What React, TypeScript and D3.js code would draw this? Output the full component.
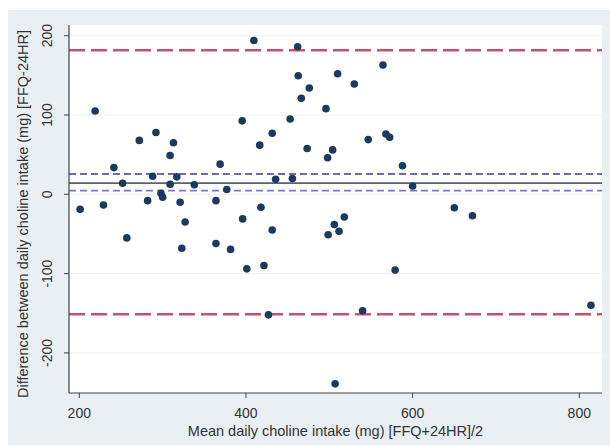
import React from "react";
import * as d3 from "d3";

const meanIntake = [201, 219, 229, 241.5, 252, 257, 272, 282, 288, 292, 298, 300, 309, 309, 313, 317, 321, 323, 327, 338, 364, 364, 369, 377, 381.5, 395.5, 396, 401, 409.5, 416.5, 418, 421.6, 427, 431.5, 431.5, 435.6, 453, 455.7, 462, 462.7, 466.4, 473.4, 476, 496, 498, 498.6, 504, 506, 507, 510, 511.7, 518, 530, 540, 546.7, 564.4, 568, 572.4, 579, 587.8, 600, 650, 671.8, 814];
const diffIntake = [-19, 105, -13.5, 33.7, 14, -55, 68, -8, 22.7, 78, 1.3, -3.8, 49, 12.6, 65, 22, -10, -68, -35, 12, -8, -62, 38, 6, -69.5, 92.6, -31, -94, 194, 62, -16.4, -89.7, -152, 77, -45, 19, 95, 20, 186, 149.5, 121, 57.7, 134, 108, 46, -51, 56, -38, -239, 152, -46.7, -28.6, 139, -147, 69, 163, 76, 72, -95.6, 36, 10.5, -17, -27, -140];

const xTicks = [200, 400, 600, 800];
const yTicks = [200, 100, 0, -100, -200];
const limitLines = [181.6, -151.3];
const ciLines = [25.6, 4.6];
const meanDiff = 14.2;

const W = 610;
const H = 447;
const left = 69;
const right = 602;
const top = 25;
const bottom = 393;

export default function App() {
  const x = d3.scaleLinear().domain([200, 800]).range([79.3, 579.3]);
  const y = d3.scaleLinear().domain([-200, 200]).range([352.9, 35.7]);
  const font = "'Liberation Sans', Arial, Helvetica, sans-serif";
  return (
    <svg width={W} height={H} style={{ position: "absolute", left: 0, top: 0, background: "#fff" }}>
      <rect x={8} y={10} width={W - 8} height={435} fill="#e9eff2" />
      <rect x={left} y={top} width={right - left} height={bottom - top} fill="#ffffff" />
      {yTicks.map((t) => (
        <line key={"g" + t} x1={left} x2={right} y1={y(t)} y2={y(t)} stroke="#eef1f3" strokeWidth={1} />
      ))}
      {limitLines.map((v, i) => (
        <line key={"l" + i} x1={left} x2={right} y1={y(v)} y2={y(v)} stroke="#c94f6b" strokeWidth={2.6} strokeDasharray="16,6" />
      ))}
      <line x1={left} x2={right} y1={y(ciLines[0])} y2={y(ciLines[0])} stroke="#3b3d96" strokeWidth={1.6} strokeDasharray="7,4" />
      <line x1={left} x2={right} y1={y(meanDiff)} y2={y(meanDiff)} stroke="#5b6170" strokeWidth={1.8} />
      <line x1={left} x2={right} y1={y(ciLines[1])} y2={y(ciLines[1])} stroke="#7778d6" strokeWidth={1.8} strokeDasharray="7,4" />
      {meanIntake.map((m, i) => (
        <circle key={i} cx={x(m)} cy={y(diffIntake[i])} r={3.8} fill="#1b3a5e" />
      ))}
      <line x1={left} x2={left} y1={top} y2={bottom} stroke="#444" strokeWidth={1.2} />
      <line x1={left} x2={right} y1={bottom} y2={bottom} stroke="#444" strokeWidth={1.2} />
      {yTicks.map((t) => (
        <g key={"yt" + t}>
          <line x1={left - 5} x2={left} y1={y(t)} y2={y(t)} stroke="#444" strokeWidth={1} />
          <text
            transform={`translate(${52},${y(t)}) rotate(-90)`}
            textAnchor="middle"
            fontFamily={font}
            fontSize={14}
            fill="#333"
          >
            {t}
          </text>
        </g>
      ))}
      {xTicks.map((t) => (
        <g key={"xt" + t}>
          <line x1={x(t)} x2={x(t)} y1={bottom} y2={bottom + 5} stroke="#444" strokeWidth={1} />
          <text x={x(t)} y={418} textAnchor="middle" fontFamily={font} fontSize={14} fill="#333">
            {t}
          </text>
        </g>
      ))}
      <text x={(left + right) / 2} y={436} textAnchor="middle" fontFamily={font} fontSize={14.5} fill="#333">
        Mean daily choline intake (mg) [FFQ+24HR]/2
      </text>
      <text
        transform={`translate(${28},${214}) rotate(-90)`}
        textAnchor="middle"
        fontFamily={font}
        fontSize={14.5}
        fill="#333"
      >
        Difference between daily choline intake (mg) [FFQ-24HR]
      </text>
    </svg>
  );
}
